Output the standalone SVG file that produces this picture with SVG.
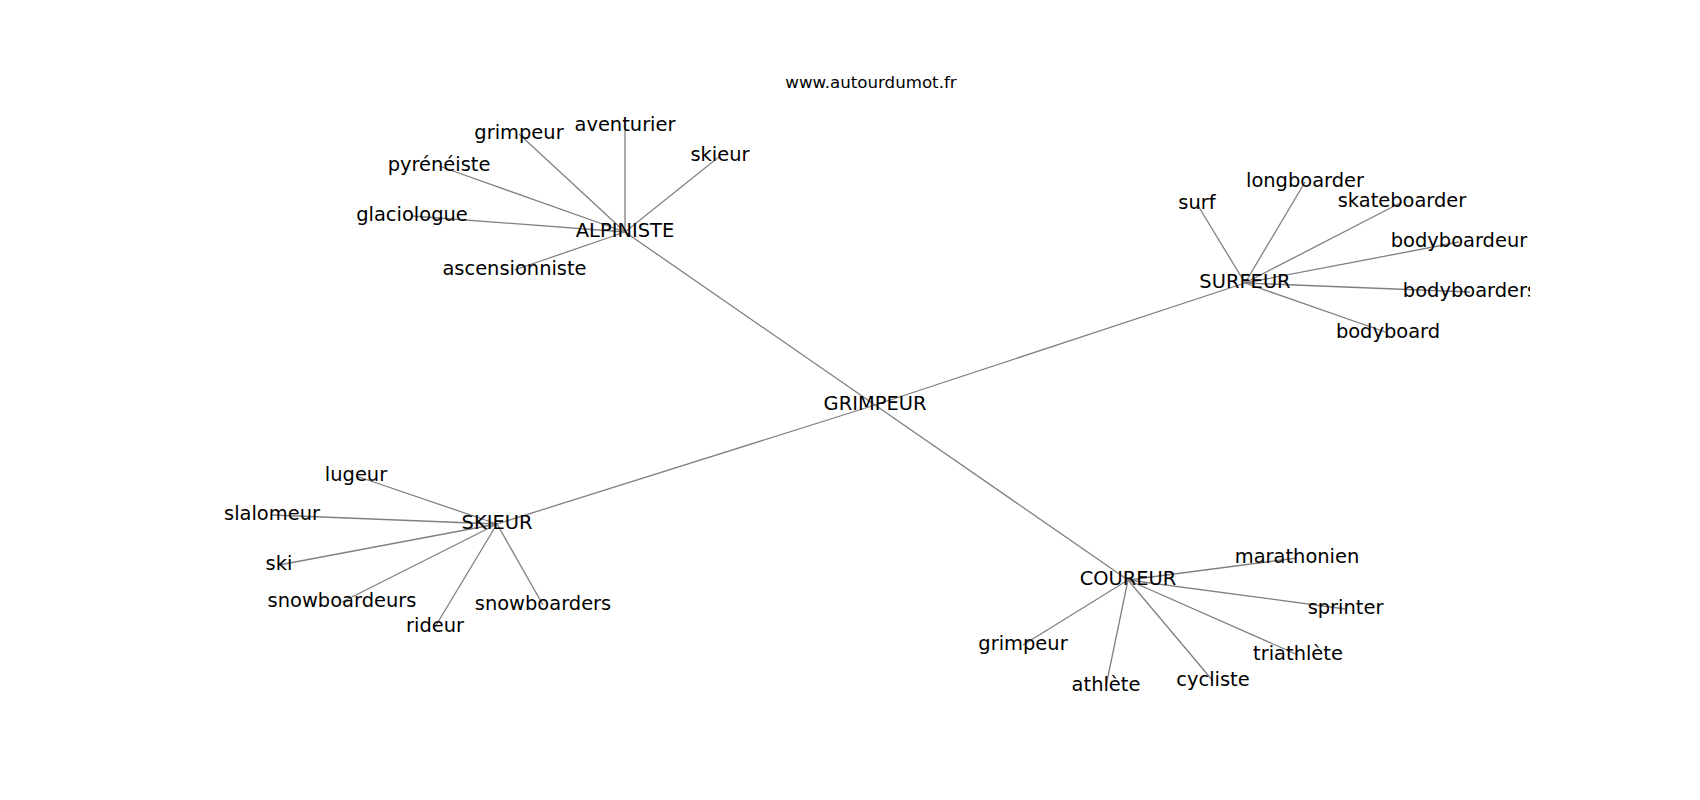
<svg xmlns="http://www.w3.org/2000/svg" width="1700" height="800" viewBox="0 0 1700 800">
<defs>
<clipPath id="ax"><rect x="212.5" y="96" width="1317.5" height="616"/></clipPath>
</defs>
<style>
.e{stroke:#808080;stroke-width:1.3;fill:none}
.t{font-family:"DejaVu Sans",sans-serif;font-size:19.44px;fill:#000;text-anchor:middle}
.title{font-family:"DejaVu Sans",sans-serif;font-size:16.67px;fill:#000;text-anchor:middle}
</style>
<rect width="1700" height="800" fill="#fff"/>
<text class="title" x="871" y="88.3">www.autourdumot.fr</text>
<g id="edges" class="e" clip-path="url(#ax)">
<line x1="875" y1="405" x2="625" y2="232"/>
<line x1="875" y1="405" x2="1245" y2="283"/>
<line x1="875" y1="405" x2="497" y2="524"/>
<line x1="875" y1="405" x2="1128" y2="580"/>
<line x1="625" y1="232" x2="519" y2="134"/>
<line x1="625" y1="232" x2="625" y2="126"/>
<line x1="625" y1="232" x2="439" y2="166"/>
<line x1="625" y1="232" x2="720" y2="156"/>
<line x1="625" y1="232" x2="412" y2="216"/>
<line x1="625" y1="232" x2="514.5" y2="270"/>
<line x1="1245" y1="283" x2="1305" y2="182"/>
<line x1="1245" y1="283" x2="1197" y2="204"/>
<line x1="1245" y1="283" x2="1402" y2="202"/>
<line x1="1245" y1="283" x2="1459" y2="242"/>
<line x1="1245" y1="283" x2="1470" y2="292"/>
<line x1="1245" y1="283" x2="1388" y2="333"/>
<line x1="497" y1="524" x2="356" y2="476"/>
<line x1="497" y1="524" x2="272" y2="515"/>
<line x1="497" y1="524" x2="279" y2="565"/>
<line x1="497" y1="524" x2="342" y2="602"/>
<line x1="497" y1="524" x2="543" y2="605"/>
<line x1="497" y1="524" x2="435" y2="627"/>
<line x1="1128" y1="580" x2="1297" y2="558"/>
<line x1="1128" y1="580" x2="1345.5" y2="609"/>
<line x1="1128" y1="580" x2="1023" y2="645"/>
<line x1="1128" y1="580" x2="1298" y2="655"/>
<line x1="1128" y1="580" x2="1106" y2="686"/>
<line x1="1128" y1="580" x2="1213" y2="681"/>
</g>
<g clip-path="url(#ax)">
<g id="n-grimpeur-center"><text class="t" x="875" y="410">GRIMPEUR</text></g>
<g id="n-alpiniste"><text class="t" x="625" y="237">ALPINISTE</text></g>
<g id="n-surfeur"><text class="t" x="1245" y="288">SURFEUR</text></g>
<g id="n-skieur-hub"><text class="t" x="497" y="529">SKIEUR</text></g>
<g id="n-coureur"><text class="t" x="1128" y="585">COUREUR</text></g>
<g id="n-a-grimpeur"><text class="t" x="519" y="139">grimpeur</text></g>
<g id="n-aventurier"><text class="t" x="625" y="131">aventurier</text></g>
<g id="n-pyreneiste"><text class="t" x="439" y="171">pyrénéiste</text></g>
<g id="n-a-skieur"><text class="t" x="720" y="161">skieur</text></g>
<g id="n-glaciologue"><text class="t" x="412" y="221">glaciologue</text></g>
<g id="n-ascensionniste"><text class="t" x="514.5" y="275">ascensionniste</text></g>
<g id="n-longboarder"><text class="t" x="1305" y="187">longboarder</text></g>
<g id="n-surf"><text class="t" x="1197" y="209">surf</text></g>
<g id="n-skateboarder"><text class="t" x="1402" y="207">skateboarder</text></g>
<g id="n-bodyboardeur"><text class="t" x="1459" y="247">bodyboardeur</text></g>
<g id="n-bodyboarders"><text class="t" x="1470" y="297">bodyboarders</text></g>
<g id="n-bodyboard"><text class="t" x="1388" y="338">bodyboard</text></g>
<g id="n-lugeur"><text class="t" x="356" y="481">lugeur</text></g>
<g id="n-slalomeur"><text class="t" x="272" y="520">slalomeur</text></g>
<g id="n-ski"><text class="t" x="279" y="570">ski</text></g>
<g id="n-snowboardeurs"><text class="t" x="342" y="607">snowboardeurs</text></g>
<g id="n-snowboarders"><text class="t" x="543" y="610">snowboarders</text></g>
<g id="n-rideur"><text class="t" x="435" y="632">rideur</text></g>
<g id="n-marathonien"><text class="t" x="1297" y="563">marathonien</text></g>
<g id="n-sprinter"><text class="t" x="1345.5" y="614">sprinter</text></g>
<g id="n-c-grimpeur"><text class="t" x="1023" y="650">grimpeur</text></g>
<g id="n-triathlete"><text class="t" x="1298" y="660">triathlète</text></g>
<g id="n-athlete"><text class="t" x="1106" y="691">athlète</text></g>
<g id="n-cycliste"><text class="t" x="1213" y="686">cycliste</text></g>
</g>
</svg>
